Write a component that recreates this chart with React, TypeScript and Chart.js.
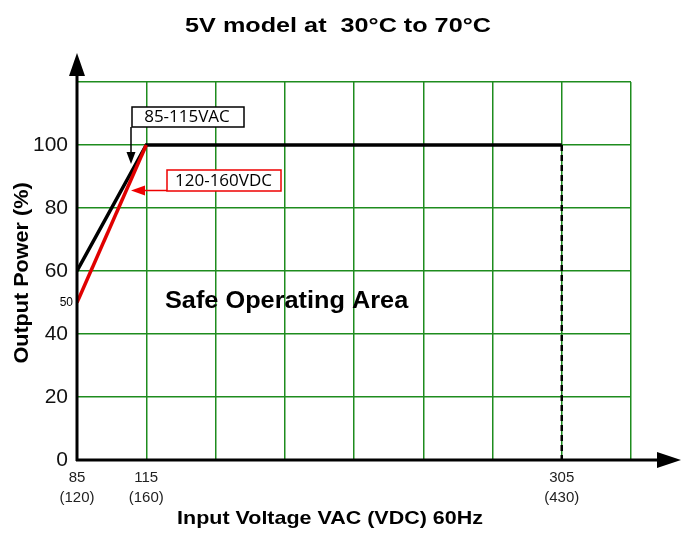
import React, { useEffect, useRef } from 'react';
import { Chart, registerables } from 'chart.js';

Chart.register(...registerables);

// ---- data ----
const titleText = '5V model at  30°C to 70°C';
const xAxisTitle = 'Input Voltage VAC (VDC) 60Hz';
const yAxisTitle = 'Output Power (%)';
const areaLabel = 'Safe Operating Area';
const acLabel = '85-115VAC';
const dcLabel = '120-160VDC';

const gridColumns = 8; // uniform grid columns on the x axis
const xTickPositions = [0, 1, 7];
const xTickVAC = ['85', '115', '305'];
const xTickVDC = ['(120)', '(160)', '(430)'];

const yMax = 120;
const yStep = 20;
const yMaxLabel = 100;

const acCurveX = [0, 1, 7];
const acCurveY = [60, 100, 100];
const dcCurveX = [0, 1];
const dcCurveY = [50, 100];
const cutoffX = [7, 7];
const cutoffY = [100, 0];
const dcStartLabel = '50';

const GRID = 'rgb(30,140,30)';
const FONT = '"Liberation Sans", Arial, sans-serif';
const BOXFONT = '"Open Sans", sans-serif';

function stretchText(ctx: any, text: string, cx: number, cy: number, sx: number) {
  ctx.save();
  ctx.translate(cx, cy);
  ctx.scale(sx, 1);
  ctx.fillText(text, 0, 0);
  ctx.restore();
}

const overlay = {
  id: 'overlay',
  afterDraw(chart: any) {
    const { ctx, scales } = chart;
    const x = scales.x;
    const y = scales.y;
    const x0 = x.getPixelForValue(0);
    const y0 = y.getPixelForValue(0);
    ctx.save();
    // axes
    ctx.strokeStyle = '#000';
    ctx.fillStyle = '#000';
    ctx.lineWidth = 3;
    ctx.beginPath();
    ctx.moveTo(x0, y0 + 1);
    ctx.lineTo(x0, 70);
    ctx.moveTo(x0 - 1, y0);
    ctx.lineTo(660, y0);
    ctx.stroke();
    // arrowheads
    ctx.beginPath();
    ctx.moveTo(x0, 53);
    ctx.lineTo(x0 - 8, 76);
    ctx.lineTo(x0 + 8, 76);
    ctx.closePath();
    ctx.fill();
    ctx.beginPath();
    ctx.moveTo(681, y0);
    ctx.lineTo(657, y0 - 8);
    ctx.lineTo(657, y0 + 8);
    ctx.closePath();
    ctx.fill();

    // title
    ctx.textAlign = 'center';
    ctx.textBaseline = 'alphabetic';
    ctx.font = 'bold 21px ' + FONT;
    stretchText(ctx, titleText, 338, 32, 1.2);
    // x axis title
    ctx.font = 'bold 19px ' + FONT;
    stretchText(ctx, xAxisTitle, 330, 524, 1.13);
    // y axis title
    ctx.save();
    ctx.translate(28, 273);
    ctx.rotate(-Math.PI / 2);
    ctx.font = 'bold 20px ' + FONT;
    stretchText(ctx, yAxisTitle, 0, 0, 1.08);
    ctx.restore();
    // area label
    ctx.font = 'bold 23px ' + FONT;
    ctx.textAlign = 'left';
    ctx.save();
    ctx.translate(165, 308);
    ctx.scale(1.1, 1);
    ctx.fillText(areaLabel, 0, 0);
    ctx.restore();
    // small 50 label
    ctx.font = '12px ' + FONT;
    ctx.textAlign = 'right';
    ctx.textBaseline = 'middle';
    ctx.fillText(dcStartLabel, 73, y.getPixelForValue(dcCurveY[0]));

    // AC annotation box
    ctx.lineWidth = 1.5;
    ctx.fillStyle = '#fff';
    ctx.fillRect(132, 107, 112, 20);
    ctx.strokeStyle = '#000';
    ctx.strokeRect(132, 107, 112, 20);
    ctx.fillStyle = '#000';
    ctx.font = '17px ' + BOXFONT;
    ctx.textAlign = 'center';
    ctx.fillText(acLabel, 187, 117.5);
    ctx.beginPath();
    ctx.moveTo(131, 127);
    ctx.lineTo(131, 155);
    ctx.stroke();
    ctx.beginPath();
    ctx.moveTo(131, 164);
    ctx.lineTo(126.5, 152);
    ctx.lineTo(135.5, 152);
    ctx.closePath();
    ctx.fill();

    // DC annotation box
    ctx.fillStyle = '#fff';
    ctx.fillRect(167, 170, 114, 21);
    ctx.strokeStyle = '#e00';
    ctx.strokeRect(167, 170, 114, 21);
    ctx.fillStyle = '#000';
    ctx.fillText(dcLabel, 223.5, 181);
    ctx.beginPath();
    ctx.moveTo(167, 190.5);
    ctx.lineTo(142, 190.5);
    ctx.stroke();
    ctx.fillStyle = '#e00';
    ctx.beginPath();
    ctx.moveTo(131, 190.5);
    ctx.lineTo(145, 185.5);
    ctx.lineTo(145, 195.5);
    ctx.closePath();
    ctx.fill();
    ctx.restore();
  },
};

export default function App() {
  const ref = useRef<HTMLCanvasElement>(null);
  useEffect(() => {
    document.body.style.margin = '0';
    const toPts = (xs: number[], ys: number[]) => xs.map((v, i) => ({ x: v, y: ys[i] }));
    const chart = new Chart(ref.current!, {
      type: 'scatter',
      data: {
        datasets: [
          {
            data: toPts(dcCurveX, dcCurveY),
            showLine: true,
            borderColor: '#e00000',
            borderWidth: 3.5,
            pointRadius: 0,
          },
          {
            data: toPts(acCurveX, acCurveY),
            showLine: true,
            borderColor: '#000',
            borderWidth: 3.5,
            pointRadius: 0,
          },
          {
            data: toPts(cutoffX, cutoffY),
            showLine: true,
            borderColor: '#000',
            borderWidth: 2.5,
            borderDash: [6, 4],
            pointRadius: 0,
          },
        ],
      },
      options: {
        animation: false,
        responsive: false,
        layout: { padding: { top: 82, right: 55, left: 0, bottom: 0 } },
        plugins: { legend: { display: false }, tooltip: { enabled: false }, title: { display: false } },
        scales: {
          x: {
            type: 'linear',
            min: 0,
            max: gridColumns,
            border: { display: false },
            grid: { color: GRID, lineWidth: 1.5, drawTicks: false },
            ticks: {
              stepSize: 1,
              autoSkip: false,
              maxRotation: 0,
              padding: 8,
              color: '#222',
              font: { family: FONT, size: 15, lineHeight: 1.33 },
              callback: (v: any) => {
                const i = xTickPositions.indexOf(Number(v));
                return i >= 0 ? [xTickVAC[i], xTickVDC[i]] : '';
              },
            },
            afterFit: (s: any) => { s.height = 73; },
          },
          y: {
            min: 0,
            max: yMax,
            border: { display: false },
            grid: { color: GRID, lineWidth: 1.5, drawTicks: false },
            ticks: {
              stepSize: yStep,
              padding: 9,
              color: '#111',
              font: { family: FONT, size: 21 },
              callback: (v: any) => (Number(v) <= yMaxLabel ? String(v) : ''),
            },
            afterFit: (s: any) => { s.width = 77; },
          },
        },
      },
      plugins: [overlay],
    });
    return () => chart.destroy();
  }, []);
  return (
    <div style={{ width: 686, height: 533 }}>
      <canvas ref={ref} width={686} height={533} style={{ display: 'block' }} />
    </div>
  );
}
